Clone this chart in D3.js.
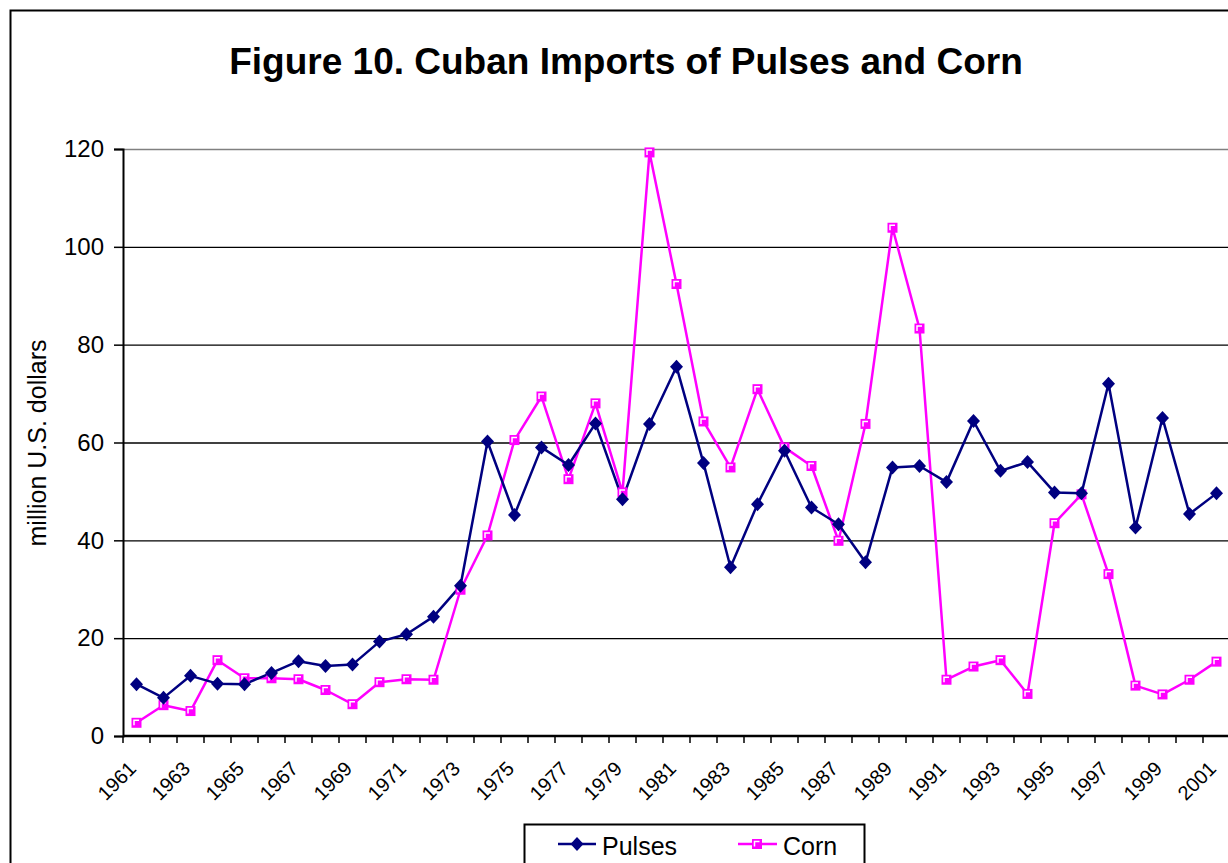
<!DOCTYPE html>
<html>
<head>
<meta charset="utf-8">
<script src="https://cdn.jsdelivr.net/npm/d3@7"></script>
<style>
  html, body { margin: 0; padding: 0; background: #fff; }
  svg { display: block; font-family: "Liberation Sans", Arial, sans-serif; }
</style>
</head>
<body>
<svg id="chart" width="1228" height="863"></svg>
<script>
// Annual imports, million U.S. dollars
const years = d3.range(1961, 2002);
const pulses = [10.6, 7.8, 12.3, 10.7, 10.6, 12.9, 15.3, 14.3, 14.6, 19.3,
                20.8, 24.4, 30.7, 60.2, 45.2, 59.0, 55.4, 63.9, 48.4, 63.8,
                75.5, 55.8, 34.5, 47.4, 58.3, 46.7, 43.3, 35.5, 54.9, 55.2,
                51.9, 64.4, 54.2, 56.0, 49.8, 49.6, 72.0, 42.6, 65.0, 45.4, 49.6];
const corn   = [2.7, 6.3, 5.1, 15.5, 11.8, 11.8, 11.6, 9.4, 6.5, 11.0,
                11.6, 11.5, 29.9, 41.0, 60.5, 69.4, 52.5, 68.0, 49.8, 119.3,
                92.4, 64.3, 54.9, 70.9, 59.0, 55.2, 39.9, 63.8, 103.9, 83.3,
                11.5, 14.2, 15.5, 8.6, 43.5, 49.4, 33.1, 10.3, 8.5, 11.5, 15.2];
const yTicks = [0, 20, 40, 60, 80, 100, 120];
const xLabelYears = years.filter((d, i) => i % 2 === 0);

const svg = d3.select("#chart");
const plotLeft = 123, plotRight = 1230, plotTop = 149, plotBottom = 736;

// outer chart frame
svg.append("rect")
  .attr("x", 10.5).attr("y", 10.5)
  .attr("width", 1240).attr("height", 900)
  .attr("fill", "none").attr("stroke", "#000").attr("stroke-width", 2);

svg.append("text")
  .attr("x", 626).attr("y", 74)
  .attr("text-anchor", "middle")
  .attr("font-weight", "bold").attr("font-size", 37)
  .text("Figure 10. Cuban Imports of Pulses and Corn");

const x = d3.scaleBand().domain(years).range([plotLeft, plotRight]);
const cx = d => x(d) + x.bandwidth() / 2;
const y = d3.scaleLinear().domain([0, 120]).range([plotBottom, plotTop]);

// horizontal gridlines
svg.append("g").selectAll("line")
  .data(yTicks.filter(t => t > 0 && t < 120))
  .join("line")
  .attr("x1", plotLeft).attr("x2", plotRight)
  .attr("y1", d => y(d) + 0.5).attr("y2", d => y(d) + 0.5)
  .attr("stroke", "#000").attr("stroke-width", 1.3);

// plot area top border
svg.append("line")
  .attr("x1", plotLeft).attr("x2", plotRight)
  .attr("y1", y(120) + 0.5).attr("y2", y(120) + 0.5)
  .attr("stroke", "#808080").attr("stroke-width", 1.5);

// y axis
const yAxis = svg.append("g")
  .attr("transform", `translate(${plotLeft},0)`)
  .call(d3.axisLeft(y).tickValues(yTicks).tickSize(9).tickPadding(10));
yAxis.select(".domain").attr("stroke", "#000").attr("stroke-width", 2);
yAxis.selectAll(".tick line").attr("stroke", "#000").attr("stroke-width", 1.5);
yAxis.selectAll(".tick text")
  .attr("font-size", 24).attr("fill", "#000")
  .attr("font-family", "'Liberation Sans', Arial, sans-serif");

svg.append("text")
  .attr("transform", "translate(46,443) rotate(-90)")
  .attr("text-anchor", "middle")
  .attr("font-size", 25)
  .text("million U.S. dollars");

// x axis with ticks between categories
svg.append("line")
  .attr("x1", plotLeft).attr("x2", plotRight)
  .attr("y1", plotBottom).attr("y2", plotBottom)
  .attr("stroke", "#000").attr("stroke-width", 2.5);
const boundaries = years.map(d => x(d)).concat([x(years[years.length - 1]) + x.bandwidth()]);
svg.append("g").selectAll("line")
  .data(boundaries)
  .join("line")
  .attr("x1", d => d).attr("x2", d => d)
  .attr("y1", plotBottom).attr("y2", plotBottom + 7)
  .attr("stroke", "#000").attr("stroke-width", 1.5);

svg.append("g").selectAll("text")
  .data(xLabelYears)
  .join("text")
  .attr("transform", d => `translate(${cx(d) - 4},${plotBottom + 29}) rotate(-45)`)
  .attr("text-anchor", "end")
  .attr("dy", "0.35em")
  .attr("font-size", 20)
  .text(d => d);

// series lines
const line = vals => d3.line()
  .x((v, i) => cx(years[i]))
  .y(v => y(v))(vals);

svg.append("path")
  .attr("d", line(corn))
  .attr("fill", "none").attr("stroke", "#FF00FF").attr("stroke-width", 2.5)
  .attr("stroke-linejoin", "round");
svg.append("path")
  .attr("d", line(pulses))
  .attr("fill", "none").attr("stroke", "#000080").attr("stroke-width", 2.5)
  .attr("stroke-linejoin", "round");

// markers
function square(g, px, py) {
  g.append("rect")
    .attr("x", px - 5).attr("y", py - 5)
    .attr("width", 10).attr("height", 10)
    .attr("fill", "#FF00FF");
  g.append("path")
    .attr("d", `M${px - 2.5},${py + 2.5}V${py - 2.5}H${px + 2.5}`)
    .attr("fill", "none").attr("stroke", "#fff").attr("stroke-width", 1.5);
}
function diamond(g, px, py) {
  g.append("path")
    .attr("d", `M${px},${py - 7}L${px + 6.5},${py}L${px},${py + 7}L${px - 6.5},${py}Z`)
    .attr("fill", "#000080");
}

const cornMarks = svg.append("g");
corn.forEach((v, i) => square(cornMarks, cx(years[i]), y(v)));
const pulseMarks = svg.append("g");
pulses.forEach((v, i) => diamond(pulseMarks, cx(years[i]), y(v)));

// legend
const lg = svg.append("g");
lg.append("rect")
  .attr("x", 524.5).attr("y", 824.5)
  .attr("width", 340).attr("height", 60)
  .attr("fill", "#fff").attr("stroke", "#000").attr("stroke-width", 2);
lg.append("line")
  .attr("x1", 558).attr("x2", 596).attr("y1", 844).attr("y2", 844)
  .attr("stroke", "#000080").attr("stroke-width", 2.5);
diamond(lg, 577, 844);
lg.append("text").attr("x", 602).attr("y", 855).attr("font-size", 25).text("Pulses");
lg.append("line")
  .attr("x1", 738).attr("x2", 777).attr("y1", 844).attr("y2", 844)
  .attr("stroke", "#FF00FF").attr("stroke-width", 2.5);
square(lg, 757, 844);
lg.append("text").attr("x", 783).attr("y", 855).attr("font-size", 25).text("Corn");
</script>
</body>
</html>
